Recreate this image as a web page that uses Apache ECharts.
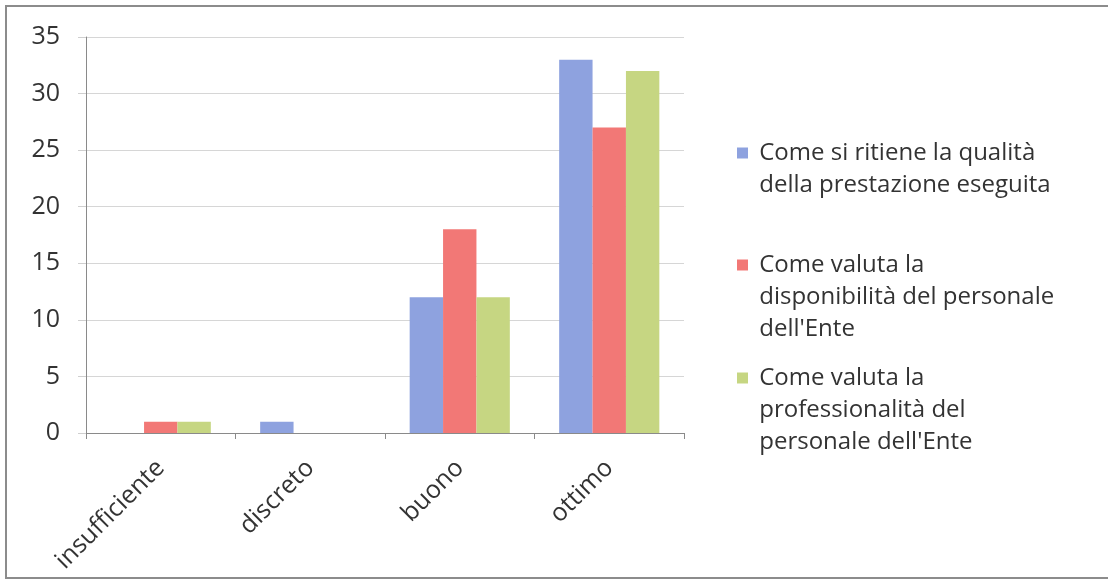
<!DOCTYPE html>
<html>
<head>
<meta charset="utf-8">
<script src="https://cdn.jsdelivr.net/npm/echarts@6/dist/echarts.min.js"></script>
<style>
  html, body { margin: 0; padding: 0; background: #ffffff; }
  #chart { width: 1108px; height: 583px; }
</style>
</head>
<body>
<div id="chart"></div>
<script>
// Survey answers per rating category
const categories = ['insufficiente', 'discreto', 'buono', 'ottimo'];
const seriesNames = [
  'Come si ritiene la qualità della prestazione eseguita',
  'Come valuta la disponibilità del personale dell\'Ente',
  'Come valuta la professionalità del personale dell\'Ente'
];
// Wrapped legend text, one entry per series
const legendLines = [
  ['Come si ritiene la qualità', 'della prestazione eseguita'],
  ['Come valuta la', 'disponibilità del personale', 'dell\'Ente'],
  ['Come valuta la', 'professionalità del', 'personale dell\'Ente']
];
const qualita = [0, 1, 12, 33];
const disponibilita = [1, 0, 18, 27];
const professionalita = [1, 0, 12, 32];
const yTicks = [0, 5, 10, 15, 20, 25, 30, 35];

const colors = ['#8ea2df', '#f27876', '#c6d682'];
const FONT = '"Open Sans", sans-serif';
const TEXT = '#333333';
const LINE_H = 32;
const firstLineCenters = [153, 265, 378];

const values = [qualita, disponibilita, professionalita];

// One legend block per series so each entry can sit at its own height.
// The label is centred on the swatch, so blank lines are put in front of it
// to bring its first line level with the swatch; a leading space widens the
// gap between swatch and text.
const legends = legendLines.map((lines, i) => {
  const n = lines.length;
  const blank = new Array(n - 1).fill(' ');
  const blockH = (2 * n - 1) * LINE_H;
  const text = blank.concat(lines.map(l => ' ' + l)).join('\n');
  return {
    orient: 'vertical',
    left: 737,
    top: firstLineCenters[i] - blockH / 2,
    padding: 0,
    itemWidth: 11,
    itemHeight: 11,
    icon: 'rect',
    selectedMode: false,
    data: [seriesNames[i]],
    formatter: () => text,
    textStyle: {
      fontFamily: FONT,
      fontSize: 24,
      color: TEXT,
      lineHeight: LINE_H
    }
  };
});

const chart = echarts.init(document.getElementById('chart'), null, { renderer: 'canvas' });
chart.setOption({
  animation: false,
  backgroundColor: '#ffffff',
  color: colors,
  grid: { left: 86, right: 424, top: 37, bottom: 150 },
  legend: legends,
  xAxis: {
    type: 'category',
    data: categories,
    axisLine: { lineStyle: { color: '#8a8a8a', width: 1 } },
    axisTick: { show: true, length: 6, alignWithLabel: false, lineStyle: { color: '#8a8a8a' } },
    axisLabel: {
      rotate: 45,
      margin: 31,
      fontFamily: FONT,
      fontSize: 25,
      color: TEXT
    }
  },
  yAxis: {
    type: 'value',
    min: yTicks[0],
    max: yTicks[yTicks.length - 1],
    interval: 5,
    axisLine: { show: true, lineStyle: { color: '#8a8a8a', width: 1 } },
    axisTick: { show: true, length: 8, lineStyle: { color: '#cfcfcf' } },
    axisLabel: {
      margin: 26,
      fontFamily: FONT,
      fontSize: 25,
      color: TEXT
    },
    splitLine: { show: true, lineStyle: { color: '#d6d6d6', width: 1 } }
  },
  series: values.map((v, i) => ({
    name: seriesNames[i],
    type: 'bar',
    data: v,
    barGap: '0%',
    barCategoryGap: '33%',
    itemStyle: { color: colors[i] }
  })),
  graphic: [{
    type: 'rect',
    shape: { x: 6, y: 6, width: 1110, height: 572 },
    style: { fill: null, stroke: '#8c8c8c', lineWidth: 2 },
    silent: true,
    z: 100
  }]
});
</script>
</body>
</html>
